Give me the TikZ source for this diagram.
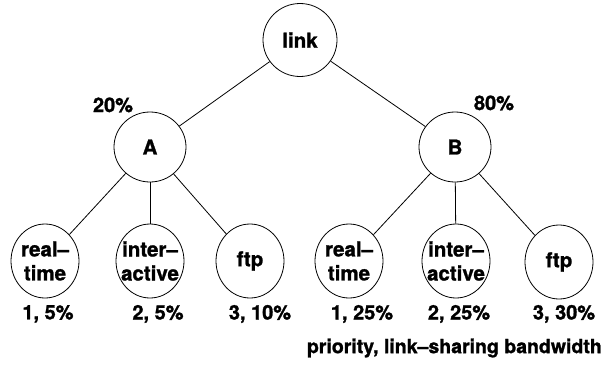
\documentclass[tikz,border=0pt]{standalone}
\usepackage{fontspec}
\setmainfont{TeX Gyre Heros}[BoldFeatures={FakeBold=1.2}]
\usetikzlibrary{shapes.geometric}
\begin{document}
\begin{tikzpicture}[x=1pt,y=-1pt,
  every node/.style={font=\fontsize{20}{24}\selectfont\bfseries},
  oval/.style={draw, ellipse, line width=0.8pt, inner sep=0pt, minimum width=#1, minimum height=74pt},
  oval/.default=68pt,
  intxt/.style={font=\fontsize{20.5}{24}\selectfont\bfseries, align=center, inner sep=0pt},
  edge/.style={line width=0.8pt}
]
\useasboundingbox (0,0) rectangle (608,367);
% upper nodes
\node[oval=74pt, minimum height=73pt, label={[intxt]center:link}] (link) at (300,40) {};
\node[oval=72pt, minimum height=70pt, label={[intxt]center:A}] (A) at (150,147) {};
\node[oval=72pt, minimum height=70pt, label={[intxt]center:B}] (B) at (455,147) {};
% leaves
\node[oval, label={[intxt]center:real–\\time}] (ra) at (45,261) {};
\node[oval, label={[intxt]center:inter–\\active}] (ia) at (150,261) {};
\node[oval, label={[intxt]center:ftp}] (fa) at (250,261) {};
\node[oval, label={[intxt]center:real–\\time}] (rb) at (349,261) {};
\node[oval, label={[intxt]center:inter–\\active}] (ib) at (456,261) {};
\node[oval, label={[intxt]center:ftp}] (fb) at (559,262) {};
% connectors
\draw[edge] (link) -- (A);
\draw[edge] (link) -- (B);
\draw[edge] (A) -- (ra);
\draw[edge] (A) -- (ia);
\draw[edge] (A) -- (fa);
\draw[edge] (B) -- (rb);
\draw[edge] (B) -- (ib);
\draw[edge] (B) -- (fb);
% labels
\node (pA) at (113,105) {20\%};
\node (pB) at (494,103) {80\%};
\node (lra) at (48,314) {1, 5\%};
\node (lia) at (158,314) {2, 5\%};
\node (lfa) at (260,314) {3, 10\%};
\node (lrb) at (362,314) {1, 25\%};
\node (lib) at (459,314) {2, 25\%};
\node (lfb) at (564,314) {3, 30\%};
\node[anchor=east, inner sep=0pt, font=\fontsize{19.5}{24}\selectfont\bfseries] (cap) at (602,348) {priority, link–sharing bandwidth};
\end{tikzpicture}
\end{document}
